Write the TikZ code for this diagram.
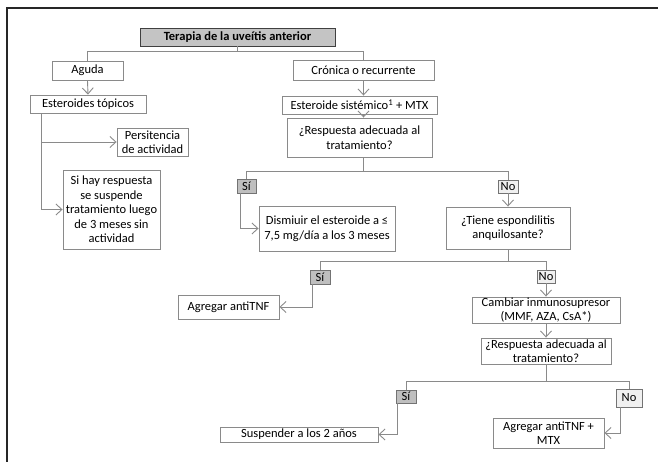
\documentclass[tikz,border=0pt]{standalone}
\usepackage{fontspec}
\setmainfont{Carlito}
\usepackage{tikz}
\usetikzlibrary{arrows.meta}
\definecolor{borde}{HTML}{8A8A8A}
\definecolor{grisSi}{HTML}{BFBFBF}
\definecolor{grisNo}{HTML}{F0F0F0}
\definecolor{grisTit}{HTML}{C4C4C4}

\begin{document}
\begin{tikzpicture}[x=1pt,y=-1pt,
  font=\fontsize{12.5}{14.5}\selectfont,
  caja/.style={draw=borde, line width=0.9pt, fill=white, align=center, inner sep=0pt},
  titulo/.style={draw=black!75, line width=0.9pt, fill=grisTit, inner sep=0pt, font=\fontsize{12.5}{14.5}\selectfont\bfseries},
  etsi/.style={draw=black!55, line width=0.8pt, fill=grisSi, inner sep=0pt},
  etno/.style={draw=black!55, line width=0.8pt, fill=grisNo, inner sep=0pt},
  linea/.style={draw=borde, line width=0.9pt},
  flecha/.style={linea, -{Straight Barb[length=6pt,width=11pt]}},
  marco/.style={draw=black!85, line width=2pt}]
\useasboundingbox (0,0) rectangle (658,462);
\draw[marco] (7,462) -- (7,8) -- (658,8);
% nodos
\node[titulo, minimum width=195, minimum height=18] (tit) at (237.5,37) {Terapia de la uveítis anterior};
\node[caja, minimum width=71, minimum height=19] (aguda) at (87.5,70.5) {Aguda};
\node[caja, minimum width=116, minimum height=18] (topicos) at (88,104) {Esteroides tópicos};
\node[caja, minimum width=71, minimum height=28] (persist) at (152.5,142) {Persitencia\\de actividad};
\node[caja, minimum width=97, minimum height=79] (sihay) at (111.5,209.5) {Si hay respuesta\\se suspende\\tratamiento luego\\de 3 meses sin\\actividad};
\node[caja, minimum width=141, minimum height=20] (cronica) at (363.5,70) {Crónica o recurrente};
\node[caja, minimum width=155, minimum height=18] (sistem) at (359.5,105) {Esteroide sistémico\textsuperscript{1} + MTX};
\node[caja, minimum width=145, minimum height=39] (resp1) at (359.5,137.5) {¿Respuesta adecuada al\\tratamiento?};
\node[etsi, minimum width=19, minimum height=14] (si1) at (246.5,186) {Sí};
\node[caja, minimum width=136, minimum height=45] (dism) at (327,228.5) {Dismiuir el esteroide a ≤\\7,5 mg/día a los 3 meses};
\node[etno, minimum width=20, minimum height=13] (no1) at (508,186.5) {No};
\node[caja, minimum width=124, minimum height=42] (tiene) at (508,228) {¿Tiene espondilitis\\anquilosante?};
\node[etsi, minimum width=20, minimum height=14] (si2) at (320,277) {Sí};
\node[caja, minimum width=101, minimum height=24] (antitnf) at (228.5,307) {Agregar antiTNF};
\node[etno, minimum width=18, minimum height=13] (no2) at (546,276.5) {No};
\node[caja, minimum width=148, minimum height=26] (cambiar) at (546,310) {Cambiar inmunosupresor\\(MMF, AZA, CsA*)};
\node[caja, minimum width=130, minimum height=26] (resp2) at (546,351) {¿Respuesta adecuada al\\tratamiento?};
\node[etsi, minimum width=20, minimum height=13] (si3) at (406,396.5) {Sí};
\node[caja, minimum width=158, minimum height=15] (suspender) at (299,434.5) {Suspender a los 2 años};
\node[etno, minimum width=26, minimum height=18] (no3) at (629,398) {No};
\node[caja, minimum width=111, minimum height=30] (antimtx) at (548.5,433) {Agregar antiTNF +\\MTX};
% conectores
\draw[linea] (tit.south) -- ++(0,5) -| (aguda.north);
\draw[linea] (tit.south) -- ++(0,5) -| (cronica.north);
\draw[flecha] (aguda.south) -- (topicos.north);
\draw[flecha] ([xshift=-47]topicos.south) |- (persist.west);
\draw[flecha] ([xshift=-47]topicos.south) |- (sihay.west);
\draw[flecha] (cronica.south) -- (cronica.south |- sistem.north);
\draw[flecha] (cronica.south |- sistem.south) -- (cronica.south |- resp1.north);
\draw[linea] (cronica.south |- resp1.south) -- ++(0,14) -| (si1.north);
\draw[linea] (cronica.south |- resp1.south) -- ++(0,14) -| (no1.north);
\draw[flecha] ([xshift=-6]si1.south) |- (dism.west);
\draw[flecha] (no1.south) -- (tiene.north);
\draw[linea] (tiene.south) -- ++(0,12) -| (si2.north);
\draw[linea] (tiene.south) -- ++(0,12) -| (no2.north);
\draw[flecha] ([xshift=-8]si2.south) |- (antitnf.east);
\draw[flecha] (no2.south) -- (cambiar.north);
\draw[flecha] (cambiar.south) -- (resp2.north);
\draw[linea] (resp2.south) -- ++(0,17) -| (si3.north);
\draw[linea] (resp2.south) -- ++(0,17) -| (no3.north);
\draw[flecha] ([xshift=-9]si3.south) |- (suspender.east);
\draw[flecha] ([xshift=-9]no3.south) |- (antimtx.east);
\end{tikzpicture}
\end{document}
